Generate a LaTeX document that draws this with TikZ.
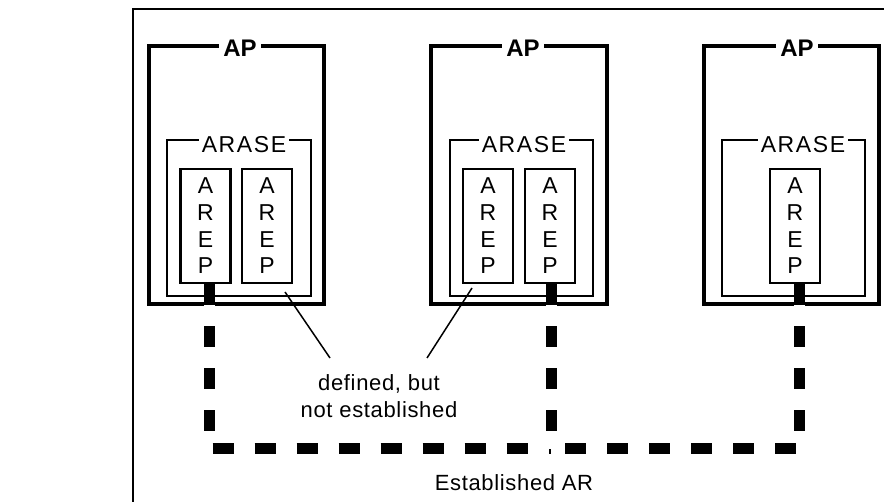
\documentclass[tikz,border=0pt]{standalone}
\usepackage{fontspec}
\setmainfont{Liberation Sans}
\begin{document}
\begin{tikzpicture}[x=1pt,y=-1pt,
  apbox/.style={draw, line width=4pt, inner sep=0pt},
  asebox/.style={draw, line width=2.2pt, inner sep=0pt, minimum width=143pt, minimum height=156pt},
  arepbox/.style={draw, line width=2.2pt, minimum width=50pt, minimum height=114pt, inner sep=0pt, align=center, font=\fontsize{23}{26.7}\selectfont},
  aplabel/.style={fill=white, font=\bfseries\fontsize{24}{26}\selectfont, inner xsep=4pt, inner ysep=1pt},
  aselabel/.style={fill=white, font=\fontsize{23}{26}\selectfont\addfontfeature{LetterSpace=7}, inner xsep=3pt, inner ysep=1pt},
  estab/.style={line width=11pt, dash pattern=on 21pt off 21pt, preaction={draw=white, line width=11pt, solid}},
  note/.style={font=\fontsize{22}{27}\selectfont\addfontfeature{LetterSpace=3}, align=center, inner sep=0pt},
  lead/.style={line width=1.5pt}
]
\useasboundingbox (0,0) rectangle (884,502);
\clip (0,0) rectangle (884,502);
\fill[white] (0,0) rectangle (884,502);
% outer frame
\draw[line width=1.8pt] (133,520) -- (133,9) -- (900,9);

% AP boxes
\node[apbox, minimum width=175pt, minimum height=258pt] (ap1) at (236.5,175) {};
\node[apbox, minimum width=176pt, minimum height=258pt] (ap2) at (519,175) {};
\node[apbox, minimum width=175pt, minimum height=258pt] (ap3) at (791.5,175) {};
\node[aplabel] (apl1) at (240,48.5) {AP};
\node[aplabel] (apl2) at (523,48.5) {AP};
\node[aplabel] (apl3) at (797,48.5) {AP};

% ARASE boxes
\node[asebox, minimum width=144pt] (ase1) at (239,218) {};
\node[asebox] (ase2) at (521.5,218) {};
\node[asebox] (ase3) at (793.5,218) {};
\node[aselabel] (asel1) at (244,145) {ARASE};
\node[aselabel] (asel2) at (524,145) {ARASE};
\node[aselabel] (asel3) at (803,145) {ARASE};

% AREP boxes
\node[arepbox] (a1) at (205.5,226) {A\\R\\E\\P};
\node[arepbox] (a2) at (267,226) {A\\R\\E\\P};
\node[arepbox] (a3) at (488,226) {A\\R\\E\\P};
\node[arepbox] (a4) at (550,226) {A\\R\\E\\P};
\node[arepbox] (a5) at (795,226) {A\\R\\E\\P};

% established AR
\coordinate (bl) at (209.5,449);
\coordinate (bm) at (551,449);
\coordinate (br) at (799,449);
\draw[estab] ([xshift=4pt]a1.south) -- (bl) -- (bm);
\draw[estab] ([xshift=4pt]a5.south) -- (br) -- (bm);
\draw[estab] ([xshift=1pt]a4.south) -- (bm);

% notes
\node[note] (def) at (379,396) {defined, but\\not established};
\coordinate (s1) at (285,292);
\coordinate (e1) at (330,358);
\coordinate (s2) at (472,288);
\coordinate (e2) at (427,358);
\draw[lead] (s1) -- (e1);
\draw[lead] (s2) -- (e2);
\node[note] (est) at (514,483) {Established AR};
\end{tikzpicture}
\end{document}
